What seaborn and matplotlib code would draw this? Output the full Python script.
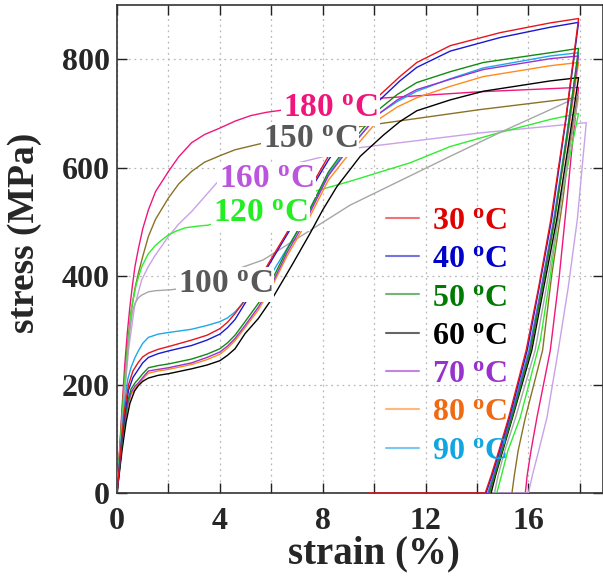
import matplotlib
matplotlib.use("Agg")
import numpy as np
import pandas as pd
import seaborn as sns
import matplotlib.pyplot as plt
from matplotlib.lines import Line2D
from matplotlib.ticker import MultipleLocator

# ---------------- stress-strain data (strain in %, stress in MPa) ----------------
# loading branch followed by the unloading branch of each test temperature
strain_30 = [0, 0.1, 0.2, 0.3, 0.45, 0.62, 0.83, 1.0, 1.22, 1.6, 2.0, 2.9, 3.5, 4.0, 4.3, 4.59, 4.98, 5.5,
             6.0, 6.67, 7.2, 7.7, 8.22, 8.8, 9.5, 10.2, 11.0, 11.66, 12.96, 14.9, 16.85, 17.95,
             17.45, 16.87, 16.4, 15.91, 15.23, 14.85, 14.55, 14.32, 9.8]
stress_30 = [0, 55, 110, 155, 200, 225, 241, 251, 258, 265, 270, 282, 291, 303, 315, 331, 356, 392,
             432, 485, 533, 578, 621, 660, 700, 733, 768, 794, 825, 849, 867, 875,
             690, 504, 380, 263, 139, 78, 32, 0, 0]

strain_40 = [0, 0.1, 0.2, 0.3, 0.45, 0.62, 0.83, 1.0, 1.22, 1.6, 2.0, 2.9, 3.5, 4.0, 4.3, 4.59, 4.98, 5.5,
             6.0, 6.67, 7.2, 7.7, 8.22, 8.8, 9.5, 10.2, 11.0, 11.66, 12.96, 14.9, 16.85, 17.95,
             17.45, 16.9, 16.42, 15.95, 15.26, 14.88, 14.58, 14.35]
stress_40 = [0, 52, 103, 145, 190, 213, 228, 240, 250, 257, 262, 272, 282, 293, 305, 320, 350, 388,
             428, 481, 528, 573, 614, 654, 692, 724, 760, 785, 815, 840, 859, 868,
             686, 504, 380, 263, 139, 78, 32, 0]

strain_50 = [0, 0.1, 0.2, 0.3, 0.42, 0.55, 0.7, 0.83, 1.0, 1.22, 1.6, 2.0, 2.9, 3.5, 4.0, 4.3, 4.59, 4.98,
             5.5, 6.02, 6.6, 7.48, 8.22, 8.8, 9.39, 10.2, 10.9, 11.66, 12.96, 14.25, 16.85, 17.95,
             17.5, 17.02, 16.55, 16.08, 15.36, 14.98, 14.69, 14.48]
stress_50 = [0, 48, 95, 135, 170, 192, 203, 210, 220, 231, 235, 238, 247, 256, 266, 277, 291, 316,
             350, 392, 448, 522, 592, 630, 662, 708, 735, 757, 777, 794, 812, 820,
             660, 504, 380, 263, 139, 78, 32, 0]

strain_60 = [0, 0.1, 0.2, 0.35, 0.5, 0.68, 0.83, 1.0, 1.22, 1.6, 2.0, 2.9, 3.5, 4.0, 4.3, 4.59, 4.98, 5.5,
             6.08, 6.8, 7.51, 8.0, 8.55, 9.07, 9.46, 10.36, 11.0, 11.66, 12.96, 14.25, 16.85, 17.95,
             17.55, 17.1, 16.6, 16.13, 15.38, 15.0, 14.72, 14.55]
stress_60 = [0, 40, 80, 130, 165, 188, 198, 206, 212, 217, 220, 229, 236, 244, 254, 266, 294, 322,
             362, 420, 479, 522, 565, 597, 621, 660, 685, 705, 725, 741, 760, 766,
             640, 504, 380, 263, 139, 78, 32, 0]

strain_70 = [0, 0.1, 0.2, 0.3, 0.42, 0.55, 0.7, 0.83, 1.0, 1.22, 1.6, 2.0, 2.9, 3.5, 4.0, 4.3, 4.59, 4.98,
             5.5, 6.02, 6.6, 7.48, 8.22, 8.8, 9.39, 10.2, 10.9, 11.66, 12.96, 14.25, 16.85, 17.95,
             17.5, 17.0, 16.52, 16.05, 15.33, 14.95, 14.66, 14.45]
stress_70 = [0, 46, 92, 130, 165, 186, 197, 203, 213, 225, 228, 231, 240, 250, 260, 271, 285, 309,
             343, 385, 442, 515, 585, 622, 655, 700, 725, 744, 763, 781, 801, 806,
             655, 504, 380, 263, 139, 78, 32, 0]

strain_80 = [0, 0.1, 0.2, 0.3, 0.42, 0.55, 0.7, 0.83, 1.0, 1.22, 1.6, 2.0, 2.9, 3.5, 4.0, 4.3, 4.59, 4.98,
             5.5, 6.02, 6.6, 7.48, 8.22, 8.8, 9.39, 10.2, 10.9, 11.66, 12.96, 14.25, 16.85, 17.95,
             17.5, 17.02, 16.55, 16.08, 15.36, 14.99, 14.7, 14.5]
stress_80 = [0, 45, 90, 127, 160, 182, 193, 200, 210, 221, 225, 228, 237, 246, 256, 267, 281, 305,
             338, 380, 436, 508, 577, 612, 645, 690, 712, 729, 750, 768, 788, 794,
             650, 504, 380, 263, 139, 78, 32, 0]

strain_90 = [0, 0.1, 0.2, 0.3, 0.42, 0.55, 0.7, 0.83, 1.0, 1.22, 1.6, 2.0, 2.9, 3.5, 4.0, 4.3, 4.59, 4.98,
             5.5, 6.02, 6.6, 7.48, 8.22, 8.8, 9.39, 10.2, 10.9, 11.66, 12.96, 14.25, 16.85, 17.95,
             17.48, 16.98, 16.5, 16.02, 15.3, 14.92, 14.63, 14.42]
stress_90 = [0, 62, 120, 168, 210, 232, 250, 262, 276, 287, 293, 296, 302, 309, 316, 323, 334, 355,
             380, 405, 450, 520, 588, 625, 655, 700, 722, 741, 764, 784, 806, 812,
             658, 504, 380, 263, 139, 78, 32, 0]

strain_100 = [0, 0.1, 0.2, 0.3, 0.4, 0.5, 0.6, 0.7, 0.83, 0.96, 1.22, 1.48, 2.13, 2.6, 5.69, 9.07, 12.96,
              14.9, 16.85, 17.95,
              17.55, 17.15, 16.7, 16.26, 15.5, 15.08, 14.82, 14.68]
stress_100 = [0, 60, 125, 190, 250, 300, 335, 350, 360, 365, 371, 373, 375, 378, 430, 531, 621,
              665, 707, 731,
              620, 504, 380, 263, 139, 78, 32, 0]

strain_120 = [0, 0.1, 0.2, 0.3, 0.4, 0.57, 0.75, 0.96, 1.2, 1.48, 1.75, 2.0, 2.3, 2.65, 3.1, 3.55, 7.51,
              9.07, 11.4, 12.96, 14.9, 16.85, 17.95,
              17.6, 17.26, 16.85, 16.46, 15.68, 15.2, 14.95, 14.77]
stress_120 = [0, 70, 140, 205, 260, 343, 385, 417, 440, 456, 467, 476, 483, 489, 492, 494, 554,
              575, 609, 639, 665, 689, 700,
              620, 541, 400, 281, 139, 78, 32, 0]

strain_150 = [0, 0.1, 0.2, 0.3, 0.4, 0.55, 0.7, 0.83, 1.0, 1.22, 1.5, 2.0, 2.4, 2.9, 3.4, 4.0, 4.59, 5.56,
              9.45, 14.1, 17.9,
              17.6, 17.34, 16.9, 16.55, 15.88, 15.6, 15.45, 15.36]
stress_150 = [0, 75, 150, 215, 270, 335, 378, 405, 436, 473, 505, 544, 570, 593, 610, 622, 633, 644,
              676, 707, 729,
              640, 541, 400, 263, 139, 78, 32, 0]

strain_160 = [0, 0.1, 0.2, 0.3, 0.45, 0.68, 0.96, 1.2, 1.48, 2.0, 2.4, 2.9, 3.4, 3.88, 9.45, 14.1, 18.25,
              17.9, 17.55, 17.16, 16.72, 16.4, 16.15, 16.0, 14.3]
stress_160 = [0, 60, 125, 185, 265, 343, 393, 416, 438, 473, 496, 519, 546, 572, 637, 664, 683,
              504, 380, 263, 139, 78, 32, 0, 0]

strain_180 = [0, 0.1, 0.2, 0.3, 0.4, 0.5, 0.6, 0.7, 0.83, 1.0, 1.22, 1.5, 2.0, 2.4, 2.9, 3.4, 4.0, 4.6,
              5.2, 5.8, 6.4, 10.2, 14.1, 17.95,
              17.7, 17.5, 17.2, 16.85, 16.33, 16.1, 15.95, 15.88]
stress_180 = [0, 80, 160, 235, 295, 343, 383, 418, 450, 487, 522, 556, 593, 620, 646, 661, 673, 686,
              696, 702, 706, 728, 740, 748,
              640, 541, 400, 263, 139, 78, 32, 0]

temps = ["180", "160", "150", "120", "100", "90", "80", "70", "60", "50", "40", "30"]
curve_strain = {"30": strain_30, "40": strain_40, "50": strain_50, "60": strain_60, "70": strain_70,
                "80": strain_80, "90": strain_90, "100": strain_100, "120": strain_120,
                "150": strain_150, "160": strain_160, "180": strain_180}
curve_stress = {"30": stress_30, "40": stress_40, "50": stress_50, "60": stress_60, "70": stress_70,
                "80": stress_80, "90": stress_90, "100": stress_100, "120": stress_120,
                "150": stress_150, "160": stress_160, "180": stress_180}

line_colors = {"30": "#e8141c", "40": "#1818d4", "50": "#138a13", "60": "#000000",
               "70": "#9a32d0", "80": "#ff8a1e", "90": "#1ca8ec", "100": "#a6a6a6",
               "120": "#2eee2e", "150": "#8a7224", "160": "#c9a2e8", "180": "#f0167c"}
legend_temps = ["30", "40", "50", "60", "70", "80", "90"]
legend_text_colors = ["#e00000", "#0000cc", "#007a00", "#000000", "#9932cc", "#f06a14", "#12a6e0"]

# in-plot labels: temperature, colour, strain (centre), stress (baseline)
tag_temps = ["180", "150", "160", "120", "100"]
tag_colors = ["#f0157a", "#585858", "#bb55dd", "#22ee22", "#585858"]
tag_x = [8.29, 7.51, 5.82, 5.58, 4.2]
tag_y = [694, 637, 563, 500, 369]

# ---------------- long-form table ----------------
frames = []
for t in temps:
    frames.append(pd.DataFrame({"strain": curve_strain[t], "stress": curve_stress[t], "T": t}))
df = pd.concat(frames, ignore_index=True)

sns.set_style("ticks")
plt.rcParams["font.family"] = ["Liberation Serif", "DejaVu Serif"]
plt.rcParams["font.weight"] = "bold"
plt.rcParams["mathtext.fontset"] = "custom"
plt.rcParams["mathtext.rm"] = "Liberation Serif:bold"
plt.rcParams["mathtext.bf"] = "Liberation Serif:bold"
plt.rcParams["mathtext.it"] = "Liberation Serif:bold"


def deg(t):
    return t + r" $^{\rm o}$C"


fig = plt.figure(figsize=(6.03, 5.76), dpi=100)
ax = fig.add_axes([117 / 603, 1 - 493 / 576, (603 - 117) / 603, (493 - 5) / 576])

sns.lineplot(data=df, x="strain", y="stress", hue="T", hue_order=temps, palette=line_colors,
             sort=False, estimator=None, linewidth=1.0, legend=False, ax=ax, zorder=3)

ax.set_xlim(0, 18.9)
ax.set_ylim(0, 900)
ax.xaxis.set_major_locator(MultipleLocator(4))
ax.xaxis.set_minor_locator(MultipleLocator(2))
ax.yaxis.set_major_locator(MultipleLocator(200))
ax.tick_params(which="both", direction="in", top=True, right=True, length=7, width=1.0,
               color="#222222")
ax.tick_params(axis="x", which="major", labelsize=23, pad=10)
ax.tick_params(axis="y", which="major", labelsize=23, pad=5)
for lab in ax.get_xticklabels() + ax.get_yticklabels():
    lab.set_fontweight("bold")

ax.grid(True, axis="x", which="both", color="#b8b8b8", linestyle=(0, (1.5, 3)), linewidth=0.9)
ax.grid(True, axis="y", which="major", color="#b8b8b8", linestyle=(0, (1.5, 3)), linewidth=0.9)
ax.set_axisbelow(True)
for s in ax.spines.values():
    s.set_color("#333333")
    s.set_linewidth(1.2)

ax.set_xlabel("strain (%)", fontsize=28, fontweight="bold")
ax.set_ylabel("stress (MPa)", fontsize=27, fontweight="bold")
ax.xaxis.set_label_coords(0.529, -0.087)
ax.yaxis.set_label_coords(-0.154, 0.533)

for t, c, x, y in zip(tag_temps, tag_colors, tag_x, tag_y):
    ax.text(x, y, deg(t), color=c, fontsize=24, fontweight="bold", ha="center", va="baseline",
            zorder=6, bbox=dict(facecolor="white", edgecolor="none", pad=1.5))

handles = [Line2D([], [], color=line_colors[t], lw=1.5, alpha=0.6) for t in legend_temps]
leg = ax.legend(handles, [deg(t) for t in legend_temps], loc="upper left",
                bbox_to_anchor=(0.553, 0.587), frameon=False,
                handlelength=1.05, handletextpad=0.4, labelspacing=0.28,
                borderpad=0, borderaxespad=0, prop={"weight": "bold", "size": 23})
for txt, c in zip(leg.get_texts(), legend_text_colors):
    txt.set_color(c)

fig.savefig("out.png", dpi=100)
